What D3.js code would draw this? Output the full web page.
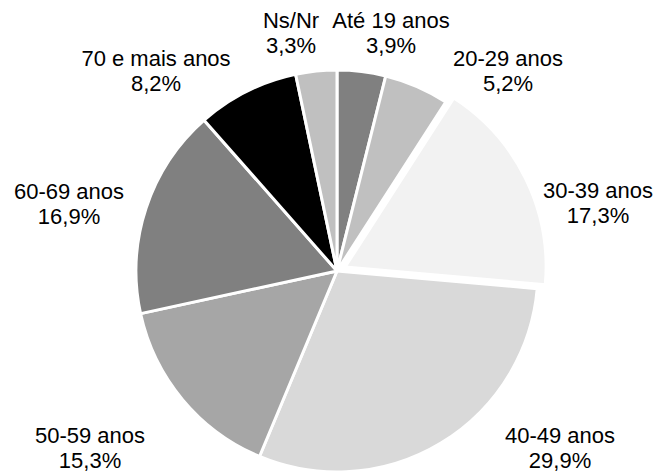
<!DOCTYPE html>
<html>
<head>
<meta charset="utf-8">
<script src="https://cdn.jsdelivr.net/npm/d3@7"></script>
<style>
  body { margin: 0; background: #fff; }
  text { font-family: "Liberation Sans", Arial, sans-serif; font-size: 22px; fill: #000; }
</style>
</head>
<body>
<svg id="chart" width="659" height="475"></svg>
<script>
// data
var categories = ["Até 19 anos", "20-29 anos", "30-39 anos", "40-49 anos", "50-59 anos", "60-69 anos", "70 e mais anos", "Ns/Nr"];
var values = [3.9, 5.2, 17.3, 29.9, 15.3, 16.9, 8.2, 3.3];

// style / layout
var colors = ["#808080", "#c0c0c0", "#f2f2f2", "#d9d9d9", "#a6a6a6", "#808080", "#000000", "#c0c0c0"];
var explode = [0, 0, 9, 0, 0, 0, 0, 0];
// label block centres, relative to the pie centre
var labelXY = [[54, -238], [171, -200], [261, -68], [223, 177], [-247, 177], [-268, -67], [-181, -200], [-46, -238]];

var cx = 337, cy = 271, radius = 201;

var svg = d3.select("#chart");
var g = svg.append("g").attr("transform", "translate(" + cx + "," + cy + ")");

var data = categories.map(function (c, i) { return { name: c, value: values[i], i: i }; });

var pie = d3.pie().sort(null).value(function (d) { return d.value; });
var arc = d3.arc().innerRadius(0).outerRadius(radius);

var arcs = pie(data);

g.selectAll("path.slice")
  .data(arcs)
  .enter()
  .append("path")
  .attr("class", "slice")
  .attr("d", arc)
  .attr("fill", function (d) { return colors[d.data.i]; })
  .attr("stroke", "#fff")
  .attr("stroke-width", 3)
  .attr("stroke-linejoin", "round")
  .attr("transform", function (d) {
    var a = (d.startAngle + d.endAngle) / 2;
    var off = explode[d.data.i];
    return "translate(" + (off * Math.sin(a)) + "," + (-off * Math.cos(a)) + ")";
  });

function fmt(v) { return String(v.toFixed(1)).replace(".", ",") + "%"; }

var lab = g.selectAll("g.label")
  .data(arcs)
  .enter()
  .append("g")
  .attr("class", "label")
  .attr("transform", function (d) {
    var p = labelXY[d.data.i];
    return "translate(" + p[0] + "," + p[1] + ")";
  });

lab.append("text")
  .attr("text-anchor", "middle")
  .attr("y", -5)
  .text(function (d) { return d.data.name; });

lab.append("text")
  .attr("text-anchor", "middle")
  .attr("y", 20)
  .text(function (d) { return fmt(d.data.value); });
</script>
</body>
</html>
